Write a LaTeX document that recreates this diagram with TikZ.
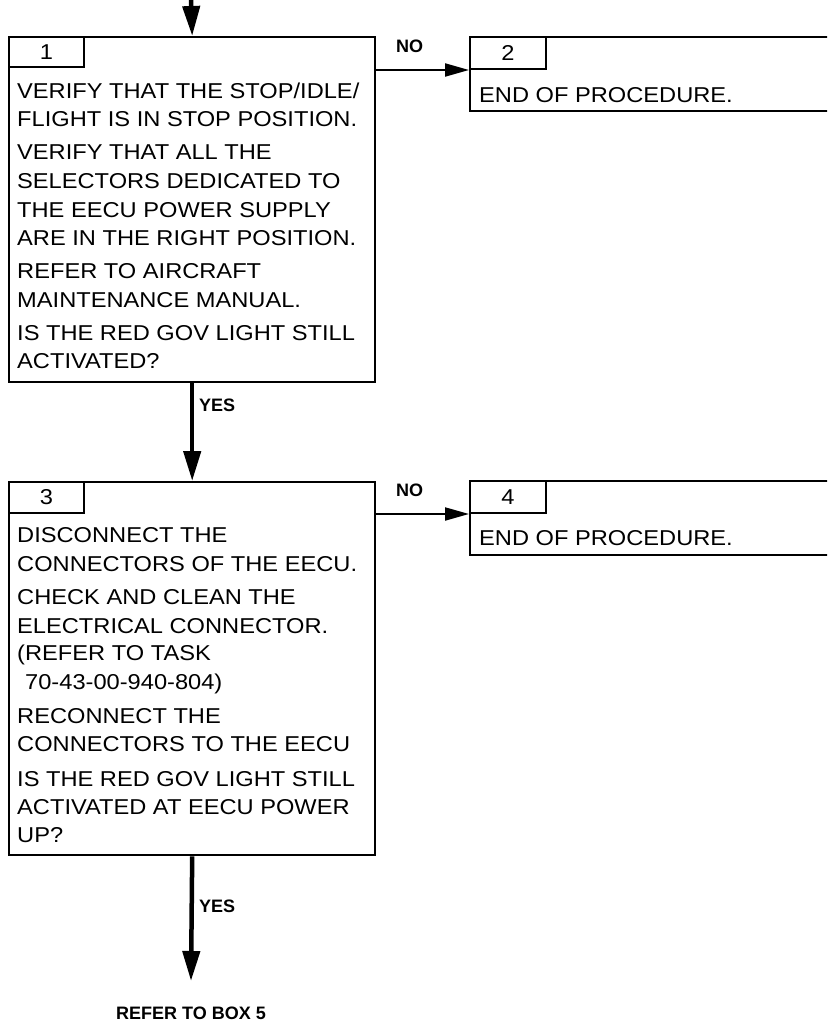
\documentclass[tikz,border=0pt]{standalone}
\usepackage{fontspec}
\setmainfont{Liberation Sans}
\newfontfamily\mainf[FakeStretch=1.1]{Liberation Sans}
\usetikzlibrary{arrows.meta}
\begin{document}
\begin{tikzpicture}[x=1pt,y=-1pt,
  box/.style={draw, line width=2.4pt, inner sep=0pt, anchor=north west},
  tab/.style={draw, line width=2pt, inner sep=0pt, anchor=north west, minimum height=31pt, font=\mainf\fontsize{21.5}{26}\selectfont},
  txt/.style={anchor=base west, inner sep=0pt, font=\mainf\fontsize{21.5}{26}\selectfont},
  lbl/.style={inner sep=0pt, font=\fontsize{18}{20}\selectfont\bfseries},
  varrow/.style={line width=4.5pt, -{Triangle[length=30pt,width=17pt]}},
  harrow/.style={line width=2pt, -{Triangle[length=24pt,width=13pt]}}]
\useasboundingbox (0,0) rectangle (827,1025);
\clip (0,0) rectangle (827,1025);
% boxes
\node[box, minimum width=366pt, minimum height=345pt] (b1) at (8,36) {};
\node[tab, minimum width=75pt, minimum height=30pt] (n1) at (8,36) {1};
\node[box, minimum width=420pt, minimum height=74pt] (b2) at (469,36) {};
\node[tab, minimum width=76pt, minimum height=32pt] (n2) at (469,36) {2};
\node[box, minimum width=366pt, minimum height=373pt] (b3) at (8,481) {};
\node[tab, minimum width=75pt, minimum height=31pt] (n3) at (8,481) {3};
\node[box, minimum width=420pt, minimum height=74pt] (b4) at (469,480) {};
\node[tab, minimum width=76pt, minimum height=32pt] (n4) at (469,480) {4};
% box 1 text
\foreach \y/\t [count=\i] in {98/{VERIFY THAT THE STOP/IDLE/},126/{FLIGHT IS IN STOP POSITION.},159/{VERIFY THAT ALL THE},188/{SELECTORS DEDICATED TO},217/{THE EECU POWER SUPPLY},245/{ARE IN THE RIGHT POSITION.},278/{REFER TO AIRCRAFT},307/{MAINTENANCE MANUAL.},340/{IS THE RED GOV LIGHT STILL},368/{ACTIVATED?}}
  \node[txt] (ta\i) at (17,\y) {\t};
% box 3 text
\foreach \y/\t [count=\i] in {542/{DISCONNECT THE},571/{CONNECTORS OF THE EECU.},604/{CHECK AND CLEAN THE},633/{ELECTRICAL CONNECTOR.},660/{(REFER TO TASK},723/{RECONNECT THE},751/{CONNECTORS TO THE EECU},786/{IS THE RED GOV LIGHT STILL},814/{ACTIVATED AT EECU POWER},842/{UP?}}
  \node[txt] (tc\i) at (17,\y) {\t};
\node[txt] (tctask) at (25,689) {70-43-00-940-804)};
% box 2 and 4 text
\node[txt] (tb) at (479,102) {END OF PROCEDURE.};
\node[txt] (td) at (479,545) {END OF PROCEDURE.};
% labels
\node[lbl] (no1) at (409.5,46) {NO};
\node[lbl] (no2) at (409.5,490) {NO};
\node[lbl, anchor=west] (yes1) at (199,405) {YES};
\node[lbl, anchor=west] (yes2) at (199,906) {YES};
\node[lbl] (ref5) at (191,1013) {REFER TO BOX 5};
% connectors
\coordinate (in) at (191,0);
\coordinate (out) at (191,981);
\draw[varrow] (in) -- (b1.north);
\draw[varrow] (b1.south) -- (b3.north);
\draw[varrow] (b3.south) -- (out);
\draw[harrow] (b1.east |- n2.south west) -- (n2.south west);
\draw[harrow] (b3.east |- n4.south west) -- (n4.south west);
\end{tikzpicture}
\end{document}
